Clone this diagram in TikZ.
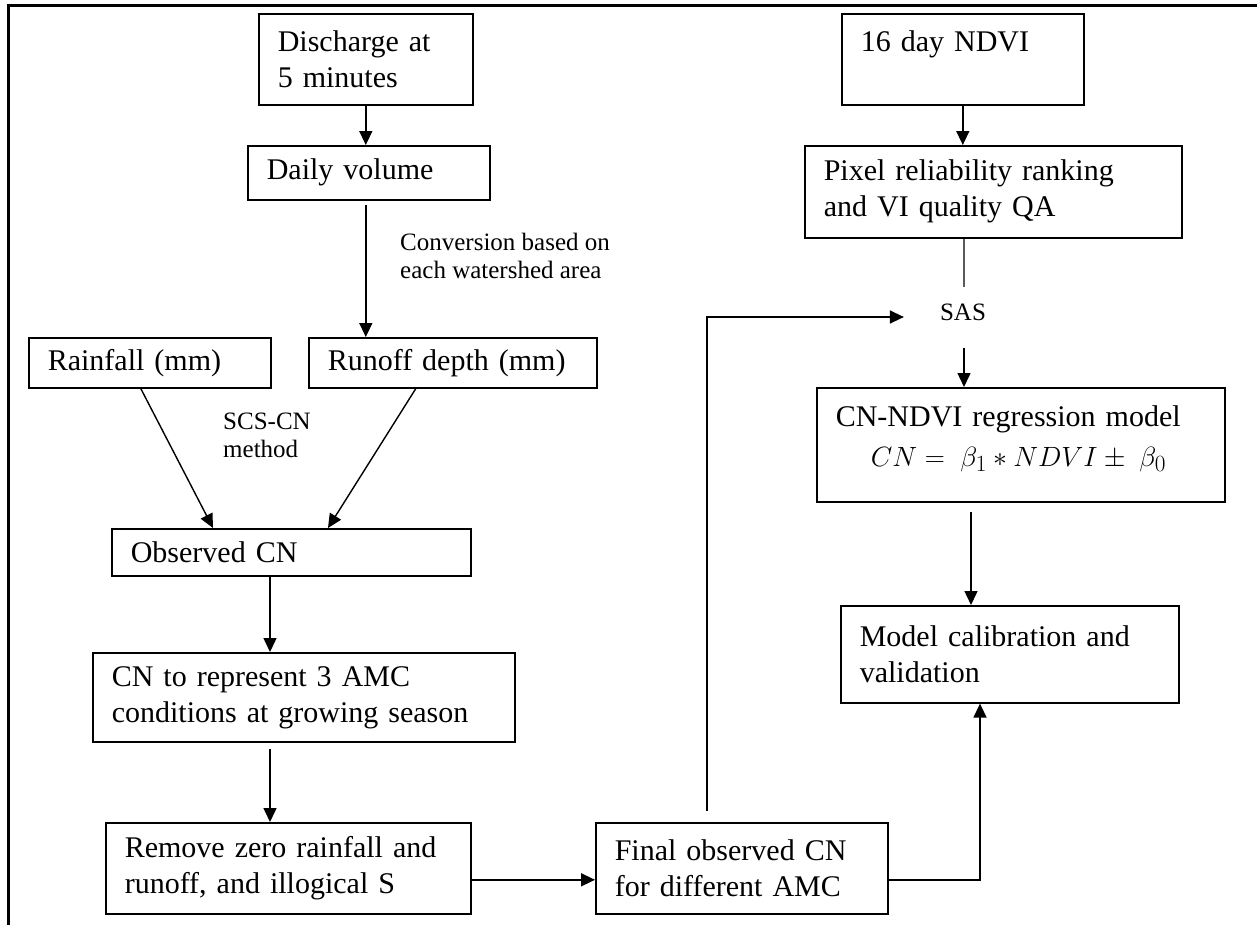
\documentclass[tikz,border=0pt]{standalone}
\usepackage{graphicx}
\usepackage{fontspec}
\setmainfont{Liberation Serif}
\usetikzlibrary{arrows.meta,calc}
\begin{document}
\begin{tikzpicture}[x=1pt,y=-1pt,
  box/.style={draw, line width=1.6pt, inner xsep=19pt, inner ysep=0pt, align=left, anchor=north west, font=\fontsize{30}{36}\selectfont},
  lbl/.style={inner sep=0pt, align=left, font=\fontsize{25}{28}\selectfont},
  arr/.style={line width=1.4pt, -{Triangle[length=14pt,width=13pt]}},
  ln/.style={line width=1.4pt}]
\useasboundingbox (0,0) rectangle (1257,924);
\fill[white] (0,0) rectangle (1257,924);
\clip (0,0) rectangle (1257,924);
\draw[line width=3pt] (8,5) rectangle (1275,940);

% left column
\node[box, text width=176pt, minimum height=91pt] (dis) at (258,13) {Discharge at\\5 minutes};
\node[box, text width=204pt, minimum height=54pt] (dv) at (247,145) {Daily volume};
\node[box, text width=204pt, minimum height=50pt] (rain) at (28,337) {Rainfall (mm)};
\node[box, text width=250pt, minimum height=50pt] (run) at (308,337) {Runoff depth (mm)};
\node[box, text width=321pt, minimum height=47pt] (obs) at (111,528) {Observed CN};
\node[box, text width=384pt, minimum height=89pt] (cnr) at (92,652) {CN to represent 3 AMC\\conditions at growing season};
\node[box, text width=327pt, minimum height=91pt] (rem) at (105,822) {Remove zero rainfall and\\runoff, and illogical S};
\node[box, text width=254pt, minimum height=91pt] (fin) at (595,822) {Final observed CN\\for different AMC};

% right column
\node[box, text width=204pt, minimum height=91pt] (ndvi) at (841,13) {16 day NDVI\\\mbox{}};
\node[box, text width=339pt, minimum height=92pt] (pix) at (804,145) {Pixel reliability ranking\\and VI quality QA};
\node[box, text width=370pt, minimum height=114pt] (cnm) at (816,387) {CN-NDVI regression model\\[4pt]\hspace*{35pt}\scalebox{1.12}{$CN =\;\beta_1\ast NDVI\pm\;\beta_0$}\\[-18pt]\mbox{}};
\node[box, text width=300pt, minimum height=97pt] (mod) at (840,605) {Model calibration and\\validation};

% labels
\node[lbl, anchor=west] (conv) at (400,255.5) {Conversion based on\\each watershed area};
\node[lbl, anchor=west] (scs) at (223,435) {SCS-CN\\method};
\node[lbl] (sas) at (963,312) {SAS};

% connectors
\draw[arr] (dis.south) -- (dis.south |- dv.north);
\draw[arr, shorten <=4pt] (dis.south |- dv.south) -- (dis.south |- run.north);
\draw[arr] ($(rain.south)+(-9,0)$) -- ($(obs.north west)+(102,0)$);
\draw[arr] ($(run.south)+(-37,0)$) -- ($(obs.north west)+(217,0)$);
\draw[arr] ($(obs.south west)+(159,0)$) -- ($(cnr.north west)+(178,0)$);
\draw[arr, shorten <=6pt] ($(cnr.south west)+(178,0)$) -- ($(rem.north west)+(165,0)$);
\draw[arr] ($(rem.east)+(0,11.5)$) -- ($(fin.west)+(0,11.5)$);
\draw[arr] ($(fin.east)+(0,11.5)$) -| ($(mod.south west)+(140,0)$);
\draw[arr, shorten <=11pt, shorten >=36pt] ($(fin.north west)+(112,0)$) |- ($(sas.west)+(0,5)$);
\draw[arr] (ndvi.south) -- (ndvi.south |- pix.north);
\draw[ln, draw=black!65, shorten >=16.5pt] ($(pix.south west)+(160,0)$) -- ($(sas.north)+(1,0)$);
\draw[arr, shorten <=27pt] ($(sas.south)+(1,0)$) -- ($(cnm.north west)+(148,0)$);
\draw[arr, shorten <=9pt] ($(cnm.south west)+(155,0)$) -- ($(mod.north west)+(131,0)$);
\end{tikzpicture}
\end{document}
